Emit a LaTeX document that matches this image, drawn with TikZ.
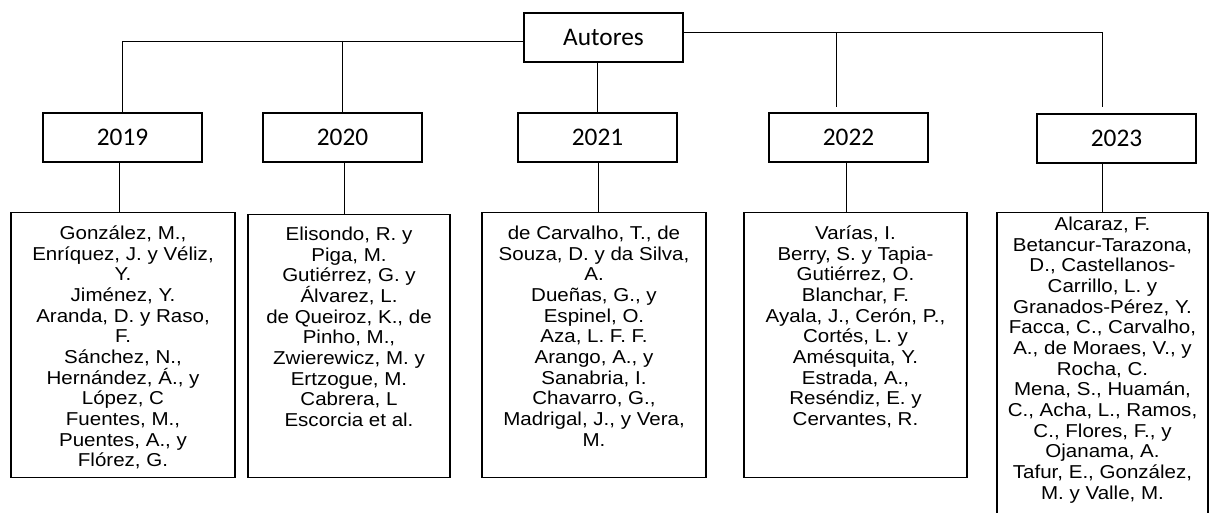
\documentclass[tikz,border=0pt]{standalone}
\usepackage{fontspec}
\setmainfont{Liberation Sans}
\newfontfamily\yearfont{Carlito}
\newfontfamily\listfont{Liberation Sans}[FakeStretch=1.1]
\newcommand{\lista}[4]{\parbox[t][#2][t]{#1}{\listfont\fontsize{14}{15.5}\selectfont
\lineskiplimit=-100pt\centering\rule{0pt}{#3}#4}}

\begin{document}
\begin{tikzpicture}[
x=0.75pt, y=-0.75pt,
every node/.style={
draw,
rectangle,
line width=1.1pt,
inner sep=0pt,
text=black
},
year/.style={
minimum width=119.25pt,
minimum height=36.75pt,
font=\yearfont\fontsize{19}{22}\selectfont
},
list/.style={anchor=north},
line width=0.7pt
]
\useasboundingbox (0,0) rectangle (1210,512);
\node[year] (autores) at (603.5,37.5) {Autores};
\node[year] (y2019) at (122.5,137.5) {2019};
\node[year] (y2020) at (342.5,137.5) {2020};
\node[year] (y2021) at (597.5,137.5) {2021};
\node[year] (y2022) at (848.5,137.5) {2022};
\node[year] (y2023) at (1116.5,138.5) {2023};

\node[list] (b2019) at (123,212) {\lista{168pt}{198.75pt}{20pt}{%
González, M.,\\ Enríquez, J. y Véliz,\\ Y.\\ Jiménez, Y.\\ Aranda, D. y Raso,\\ F.\\
Sánchez, N.,\\ Hernández, Á., y\\ López, C\\ Fuentes, M.,\\ Puentes, A., y\\ Flórez, G.}};
\node[list] (b2020) at (349,214) {\lista{151.5pt}{197.25pt}{19.3pt}{%
Elisondo, R. y\\ Piga, M.\\ Gutiérrez, G. y\\ Álvarez, L.\\ de Queiroz, K., de\\ Pinho, M.,\\
Zwierewicz, M. y\\ Ertzogue, M.\\ Cabrera, L\\ Escorcia et al.}};
\node[list] (b2021) at (594,212) {\lista{168pt}{198.75pt}{20pt}{%
de Carvalho, T., de\\ Souza, D. y da Silva,\\ A.\\ Dueñas, G., y\\ Espinel, O.\\ Aza, L. F. F.\\
Arango, A., y\\ Sanabria, I.\\ Chavarro, G.,\\ Madrigal, J., y Vera,\\ M.}};
\node[list] (b2022) at (855.5,212) {\lista{167.25pt}{198.75pt}{20pt}{%
Varías, I.\\ Berry, S. y Tapia-\\ Gutiérrez, O.\\ Blanchar, F.\\ Ayala, J., Cerón, P.,\\
Cortés, L. y\\ Amésquita, Y.\\ Estrada, A.,\\ Reséndiz, E. y\\ Cervantes, R.}};
\node[list] (b2023) at (1102.5,212) {\lista{158.25pt}{247.5pt}{13.3pt}{%
Alcaraz, F.\\ Betancur-Tarazona,\\ D., Castellanos-\\ Carrillo, L. y\\ Granados-Pérez, Y.\\
Facca, C., Carvalho,\\ A., de Moraes, V., y\\ Rocha, C.\\ Mena, S., Huamán,\\
C., Acha, L., Ramos,\\ C., Flores, F., y\\ Ojanama, A.\\ Tafur, E., González,\\ M. y Valle, M.}};

% tree lines from the top box
\coordinate (lft) at ([yshift=-2.6pt]autores.west);
\coordinate (rgt) at ([yshift=4.1pt]autores.east);
\coordinate (t2022) at (836,107);
\coordinate (t2023) at (1102,107);
\draw (lft) -| (y2019.north);
\draw (y2020.north |- lft) -- (y2020.north);
\draw (y2021.north |- autores.south) -- (y2021.north);
\draw (rgt) -| (t2023);
\draw (t2022 |- rgt) -- (t2022);
\foreach \yr/\dx in {2019/-2.6pt, 2020/1.1pt, 2021/0.4pt, 2022/-1.9pt, 2023/-10.9pt}
\draw ([xshift=\dx]y\yr.south) -- ([xshift=\dx]y\yr.south |- b\yr.north);
\end{tikzpicture}
\end{document}
